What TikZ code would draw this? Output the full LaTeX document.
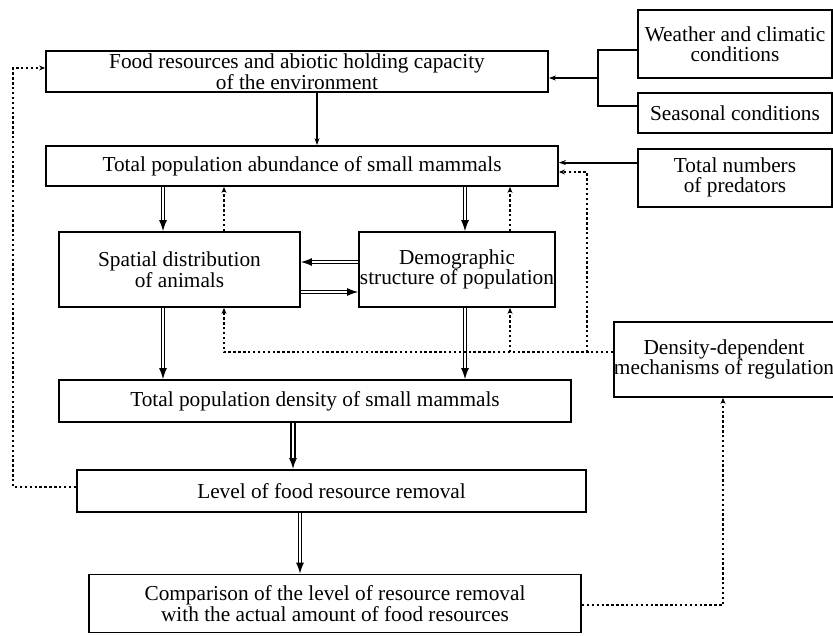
\documentclass[tikz,border=0pt]{standalone}
\usepackage{fontspec}
\setmainfont{Liberation Serif}
\usetikzlibrary{arrows.meta, positioning}

\begin{document}
\begin{tikzpicture}[
    x=1pt, y=-1pt,
    node distance=13pt,
    box/.style={rectangle, draw, line width=1.8pt, inner sep=0pt, align=center, font=\fontsize{21.3}{20.5}\selectfont},
    tight/.style={font=\fontsize{21.3}{17.5}\selectfont},
    arrow/.style={-{Stealth[length=7pt,width=5pt]}, line width=1.8pt},
    line/.style={line width=1.8pt},
    dots/.style={line width=2.5pt, dash pattern=on 2.4pt off 2.5pt},
    dotarrow/.style={dots, -{Stealth[length=6pt,width=5pt]}},
    dbl/.style={double, double distance=2pt, line width=1.1pt, -{Latex[length=11pt,width=8pt]}},
    dblbold/.style={dbl, line width=1.7pt}
]
\useasboundingbox (0,0) rectangle (833,635);

% Row 1: environment
\node[box, tight, minimum width=502pt, minimum height=41pt] (food) at (297,71.5) {Food resources and abiotic holding capacity\\of the environment};

% Right column: outside factors
\node[box, minimum width=194pt, minimum height=68pt] (weather) at (735,44) {Weather and climatic\\conditions};
\node[box, minimum width=194pt, minimum height=40pt, below=13pt of weather] (seasonal) {Seasonal conditions};
\node[box, minimum width=194pt, minimum height=58pt, below=14pt of seasonal] (predators) {Total numbers\\of predators};

% Row 2: abundance
\node[box, minimum width=512pt, minimum height=40pt] (abund) at (302,166) {Total population abundance of small mammals};

% Row 3: structure
\node[box, minimum width=241pt, minimum height=75pt] (spatial) at (179.5,269.5) {Spatial distribution\\of animals};
\node[box, minimum width=196pt, minimum height=75pt] (demog) at (457,269.5) {Demographic\\structure of population};
\node[box, minimum width=218pt, minimum height=75pt] (densdep) at (724,359.5) {Density-dependent\\mechanisms of regulation};

% Row 4: density
\node[box, minimum width=512pt, minimum height=42pt] (density) at (315,401) {Total population density of small mammals};

% Row 5: removal
\node[box, minimum width=509pt, minimum height=42pt] (level) at (331.5,491) {Level of food resource removal};

% Row 6: comparison
\node[box, minimum width=492pt, minimum height=58pt] (compar) at (335,603.5) {Comparison of the level of resource removal\\with the actual amount of food resources};

% Arrows
\draw[arrow] ([xshift=20pt]food.south) -- ([xshift=20pt]food.south |- abund.north);
\coordinate (brk) at (598,78);
\draw[line] ([yshift=-6pt]weather.west) -| (brk) |- ([yshift=7pt]seasonal.west);
\draw[arrow] (brk) -- (brk -| food.east);
\draw[arrow] ([yshift=15pt]predators.west) -- ([yshift=15pt]predators.west -| abund.east);

\draw[dbl] ([xshift=-16.5pt]spatial.north |- abund.south) -- ([xshift=-16.5pt]spatial.north);
\draw[dbl] ([xshift=8pt]demog.north |- abund.south) -- ([xshift=8pt]demog.north);
\draw[dbl] ([yshift=7.5pt]demog.west) -- ([yshift=7.5pt]demog.west -| spatial.east);
\draw[dbl] ([yshift=-22.5pt]spatial.east) -- ([yshift=-22.5pt]spatial.east -| demog.west);
\draw[dbl] ([xshift=-16.5pt]spatial.south) -- ([xshift=-16.5pt]spatial.south |- density.north);
\draw[dbl] ([xshift=8pt]demog.south) -- ([xshift=8pt]demog.south |- density.north);
\draw[dblbold] ([xshift=-22pt]density.south) -- ([xshift=-22pt]density.south |- level.north);
\draw[dbl] ([xshift=-31.5pt]level.south) -- ([xshift=-31.5pt]level.south |- compar.north);

% Feedback (dotted)
\draw[dotarrow] ([xshift=44.5pt]spatial.north) -- ([xshift=44.5pt]spatial.north |- abund.south);
\draw[dotarrow] ([xshift=53pt]demog.north) -- ([xshift=53pt]demog.north |- abund.south);
\coordinate (junc) at (587,352);
\draw[dotarrow] ([yshift=7.5pt]densdep.west) -| ([xshift=44.5pt]spatial.south);
\draw[dotarrow] ([xshift=53pt]demog.south |- junc) -- ([xshift=53pt]demog.south);
\draw[dotarrow] (junc) |- ([yshift=-6pt]abund.east);
\draw[dotarrow] ([yshift=4pt]level.west) -- ++(-63,0) |- ([yshift=3.5pt]food.west);
\draw[dotarrow] ([yshift=-1.5pt]compar.east) -| ([xshift=-1pt]densdep.south);

\end{tikzpicture}
\end{document}
